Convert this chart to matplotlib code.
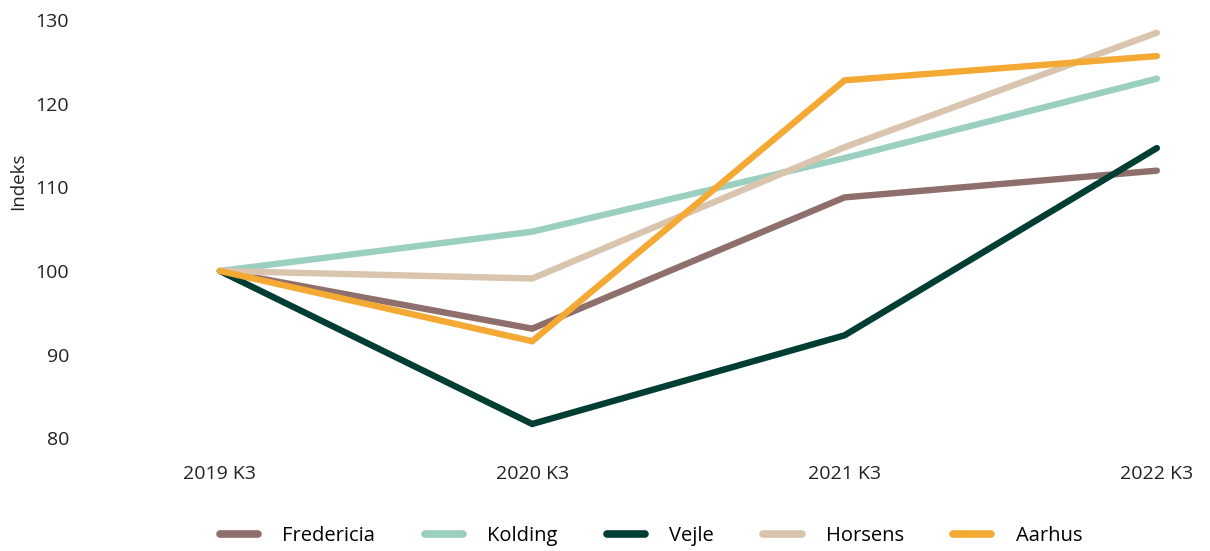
import matplotlib.pyplot as plt

plt.rcParams['font.family'] = ['Open Sans', 'DejaVu Sans']

# data
quarters = ['2019 K3', '2020 K3', '2021 K3', '2022 K3']
fredericia = [100, 93.1, 108.8, 112.0]
kolding = [100, 104.7, 113.5, 123.0]
vejle = [100, 81.7, 92.3, 114.7]
horsens = [100, 99.1, 114.8, 128.5]
aarhus = [100, 91.6, 122.8, 125.7]

series = [
    ('Fredericia', fredericia, '#8F6F6B'),
    ('Kolding', kolding, '#9BD0C0'),
    ('Vejle', vejle, '#003D33'),
    ('Horsens', horsens, '#D9C4AE'),
    ('Aarhus', aarhus, '#F5A935'),
]

fig = plt.figure(figsize=(12.1, 5.51), dpi=100)
ax = fig.add_axes([0.08, 0.1744, 0.905, 0.8042])

x = range(len(quarters))
for name, vals, col in series:
    ax.plot(x, vals, color=col, lw=4.6, label=name,
            solid_capstyle='round', solid_joinstyle='miter')

ax.set_xlim(-0.394, 3.112)
ax.set_ylim(78, 131)
ax.set_xticks(list(x))
ax.set_xticklabels(quarters)
ax.set_yticks([80, 90, 100, 110, 120, 130])
ax.tick_params(length=0, labelsize=14, colors='#222222', pad=7)
ax.tick_params(axis='y', pad=20)
for s in ax.spines.values():
    s.set_visible(False)

fig.text(18 / 1210, 1 - 181 / 551, 'Indeks', rotation=90, ha='center',
         va='center', fontsize=13.5, color='#222222')

leg = fig.legend(loc='center', bbox_to_anchor=(651 / 1210, 1 - 536 / 551),
                 ncol=5, frameon=False, fontsize=14.5, handlelength=1.9,
                 handletextpad=1.2, columnspacing=2.45)
for h in leg.get_lines():
    h.set_linewidth(5.5)
    h.set_solid_capstyle('round')

fig.savefig('out.png', dpi=100)
